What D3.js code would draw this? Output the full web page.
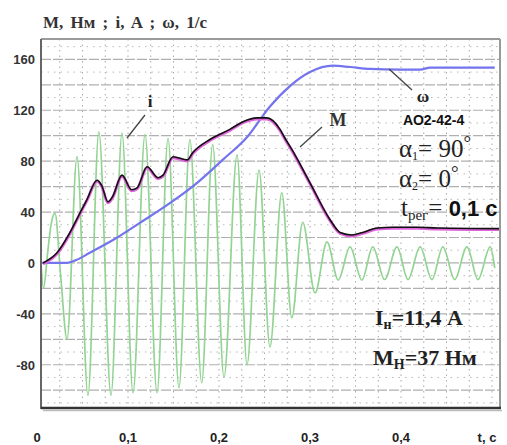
<!DOCTYPE html>
<html>
<head>
<meta charset="utf-8">
<script src="https://cdn.jsdelivr.net/npm/d3@7"></script>
<style>
  body { margin: 0; background: #fff; }
  svg { display: block; }
</style>
</head>
<body>
<svg id="chart" width="507" height="445"></svg>
<script>
'use strict'

// current i, A
const iTime = [0.0044, 0.0071, 0.012, 0.0154, 0.0198, 0.026, 0.033, 0.044, 0.056, 0.068, 0.0813, 0.0934,
  0.1055, 0.1187, 0.1319, 0.144, 0.156, 0.168, 0.181, 0.193, 0.2055, 0.2198, 0.2308, 0.244, 0.256,
  0.269, 0.280, 0.292, 0.3055, 0.3187, 0.331, 0.344, 0.357, 0.369, 0.382, 0.3956, 0.4077, 0.421,
  0.434, 0.446, 0.459, 0.4725, 0.4846, 0.498, 0.503]
const iValue = [0, -20, 10, 30, 39, -10, -60, 83.5, -104, 103, -104, 102,
  -102, 101, -102, 98, -98, 97, -94, 93, -90, 85, -80, 73, -66,
  55, -43, 32, -23.6, 16.5, -13.4, 12.6, -13.4, 12.6, -13, 12.6, -13, 12.6,
  -13, 12.6, -13, 12.6, -13, 12.6, -4]

// torque M, Nm
const mTime = [0.0066, 0.022, 0.036, 0.047, 0.055, 0.066, 0.071, 0.078, 0.083, 0.0934, 0.104, 0.110,
  0.121, 0.133, 0.1385, 0.1495, 0.165, 0.1715, 0.190, 0.212, 0.2264, 0.2418, 0.2527, 0.267, 0.2725,
  0.2802, 0.300, 0.322, 0.333, 0.346, 0.358, 0.374, 0.391, 0.4176, 0.4396, 0.509]
const mValue = [0, 8, 23.6, 39, 50, 65, 61, 48, 52, 69, 57.5, 59,
  75.6, 67, 69, 83.5, 81, 87, 97, 105, 111, 114, 114, 105, 98,
  89, 63, 34, 24, 22, 24, 27.5, 28, 28, 27.5, 27]

// speed omega, 1/s
const wTime = [0.0044, 0.020, 0.031, 0.042, 0.058, 0.0835, 0.113, 0.146, 0.176, 0.204, 0.231, 0.256,
  0.278, 0.300, 0.325, 0.344, 0.366, 0.399, 0.421, 0.432, 0.503]
const wValue = [0, 0, 0, 2, 8, 18, 31.5, 47, 63, 81, 99, 123,
  139, 150, 155, 154, 152.5, 152, 152, 153.5, 153.5]

const yTicks = [160, 120, 80, 40, 0, -40, -80]
const xTicks = [0, 0.1, 0.2, 0.3, 0.4]
const xTickLabels = ['0', '0,1', '0,2', '0,3', '0,4']

const svg = d3.select('#chart')

const x = d3.scaleLinear().domain([0, 0.5]).range([37, 492])
const y = d3.scaleLinear().domain([-114, 176]).range([408, 39])

const plotLeft = 41
const plotRight = 500
const plotTop = y(176)
const plotBottom = y(-114)

// grid
const grid = svg.append('g')
grid.selectAll('line.v')
  .data(d3.range(1, 21).map(k => k * 0.025))
  .join('line')
  .attr('x1', d => x(d)).attr('x2', d => x(d))
  .attr('y1', plotTop).attr('y2', plotBottom)
  .attr('stroke', '#a8a8a8')
  .attr('stroke-width', 1)
  .attr('stroke-dasharray', '1.5,4')

grid.append('g').selectAll('line')
  .data(d3.range(-110, 176, 20))
  .join('line')
  .attr('x1', plotLeft).attr('x2', plotRight)
  .attr('y1', d => y(d)).attr('y2', d => y(d))
  .attr('stroke', '#b8b8b8')
  .attr('stroke-width', 1)
  .attr('stroke-dasharray', '1.5,5')

grid.append('g').selectAll('line')
  .data(d3.range(-100, 176, 20))
  .join('line')
  .attr('x1', plotLeft).attr('x2', plotRight)
  .attr('y1', d => y(d)).attr('y2', d => y(d))
  .attr('stroke', '#b0b0b0')
  .attr('stroke-width', 1.2)
  .attr('stroke-dasharray', '10,2')

function series (ts, vs) {
  return ts.map((t, k) => [t, vs[k]])
}

const line = d3.line()
  .x(d => x(d[0]))
  .y(d => y(d[1]))
  .curve(d3.curveMonotoneX)

// i
svg.append('path')
  .attr('d', line(series(iTime, iValue)))
  .attr('fill', 'none')
  .attr('stroke', '#93d493')
  .attr('stroke-width', 1.7)

// omega
svg.append('path')
  .attr('d', line(series(wTime, wValue)))
  .attr('fill', 'none')
  .attr('stroke', '#7474ee')
  .attr('stroke-width', 2.2)

// M (pink under black)
svg.append('path')
  .attr('d', line(series(mTime, mValue)))
  .attr('fill', 'none')
  .attr('stroke', '#e066dc')
  .attr('stroke-width', 3)
  .attr('transform', 'translate(0,1)')
svg.append('path')
  .attr('d', line(series(mTime, mValue)))
  .attr('fill', 'none')
  .attr('stroke', '#111')
  .attr('stroke-width', 1.6)

// frame
svg.append('line').attr('x1', plotLeft).attr('x2', plotRight).attr('y1', plotTop).attr('y2', plotTop)
  .attr('stroke', '#9a9a9a').attr('stroke-width', 2)
svg.append('line').attr('x1', plotRight).attr('x2', plotRight).attr('y1', plotTop).attr('y2', plotBottom)
  .attr('stroke', '#9a9a9a').attr('stroke-width', 2)
svg.append('line').attr('x1', plotLeft).attr('x2', plotLeft).attr('y1', plotTop).attr('y2', plotBottom + 1)
  .attr('stroke', '#666').attr('stroke-width', 2)
svg.append('line').attr('x1', plotLeft).attr('x2', plotRight + 1).attr('y1', plotBottom).attr('y2', plotBottom)
  .attr('stroke', '#333').attr('stroke-width', 2.5)
svg.append('line').attr('x1', plotLeft + 2).attr('x2', plotRight + 2).attr('y1', plotBottom + 2.5).attr('y2', plotBottom + 2.5)
  .attr('stroke', '#bbb').attr('stroke-width', 1.5)

// tick labels
svg.append('g').selectAll('text')
  .data(yTicks)
  .join('text')
  .attr('x', 35)
  .attr('y', d => y(d) + 5)
  .attr('text-anchor', 'end')
  .attr('font-family', 'Liberation Sans, Arial, sans-serif')
  .attr('font-weight', 'bold')
  .attr('font-size', 13)
  .attr('fill', '#333')
  .text(d => d)

svg.append('g').selectAll('text')
  .data(xTicks)
  .join('text')
  .attr('x', d => x(d))
  .attr('y', 442)
  .attr('text-anchor', 'middle')
  .attr('font-family', 'Liberation Sans, Arial, sans-serif')
  .attr('font-weight', 'bold')
  .attr('font-size', 13)
  .attr('fill', '#222')
  .text((d, k) => xTickLabels[k])

svg.append('text')
  .attr('x', 487).attr('y', 442)
  .attr('text-anchor', 'middle')
  .attr('font-family', 'Liberation Sans, Arial, sans-serif')
  .attr('font-weight', 'bold')
  .attr('font-size', 13)
  .attr('fill', '#222')
  .text('t, c')

const serif = 'Liberation Serif, Times New Roman, serif'

svg.append('text')
  .attr('x', 43).attr('y', 28)
  .attr('font-family', serif)
  .attr('font-weight', 'bold')
  .attr('font-size', 17)
  .attr('word-spacing', 3)
  .attr('fill', '#333')
  .text('M, Нм ; i, A ; ω, 1/с')

// curve labels and leaders
const leaders = [[127, 138, 145, 115], [300, 147, 322, 127], [389, 69, 412, 90]]
svg.append('g').selectAll('line')
  .data(leaders)
  .join('line')
  .attr('x1', d => d[0]).attr('y1', d => d[1])
  .attr('x2', d => d[2]).attr('y2', d => d[3])
  .attr('stroke', '#444')
  .attr('stroke-width', 1.3)

function label (tx, ty, str, size, opts = {}) {
  return svg.append('text')
    .attr('x', tx).attr('y', ty)
    .attr('text-anchor', opts.anchor || 'start')
    .attr('font-family', opts.family || serif)
    .attr('font-weight', opts.weight || 'normal')
    .attr('font-size', size)
    .attr('fill', opts.fill || '#222')
    .text(str)
}

label(150, 107, 'i', 17, { anchor: 'middle', weight: 'bold' })
label(338, 126, 'M', 18, { anchor: 'middle', weight: 'bold', fill: '#333' })
label(423, 102, 'ω', 17, { anchor: 'middle', weight: 'bold' })
label(403, 125, 'АО2-42-4', 14, { family: 'Liberation Sans, Arial, sans-serif', weight: 'bold', fill: '#111' })

// alpha1
const a1 = label(399, 157, '', 25)
a1.append('tspan').text('α')
a1.append('tspan').attr('font-size', 12).attr('dy', 3).text('1')
a1.append('tspan').attr('dy', -3).text('= 90')
a1.append('tspan').attr('font-size', 19).attr('dy', -8).text('°')

const a2 = label(399, 187, '', 25)
a2.append('tspan').text('α')
a2.append('tspan').attr('font-size', 12).attr('dy', 3).text('2')
a2.append('tspan').attr('dy', -3).text('= 0')
a2.append('tspan').attr('font-size', 19).attr('dy', -8).text('°')

const tr = label(401, 216, '', 25)
tr.append('tspan').text('t')
tr.append('tspan').attr('font-size', 15).attr('dy', 4).text('рег')
tr.append('tspan').attr('dy', -4).text('= ')
tr.append('tspan').attr('font-family', 'Liberation Sans, Arial, sans-serif')
  .attr('font-weight', 'bold').attr('font-size', 22).attr('fill', '#111').text('0,1 с')

const ia = label(375, 325, '', 22, { weight: 'bold' })
ia.append('tspan').text('I')
ia.append('tspan').attr('font-size', 14).attr('dy', 4).text('н')
ia.append('tspan').attr('dy', -4).text('=11,4 A')

const ma = label(373, 365, '', 22, { weight: 'bold' })
ma.append('tspan').text('M')
ma.append('tspan').attr('font-size', 14).attr('dy', 4).text('Н')
ma.append('tspan').attr('dy', -4).text('=37 Нм')
</script>
</body>
</html>
